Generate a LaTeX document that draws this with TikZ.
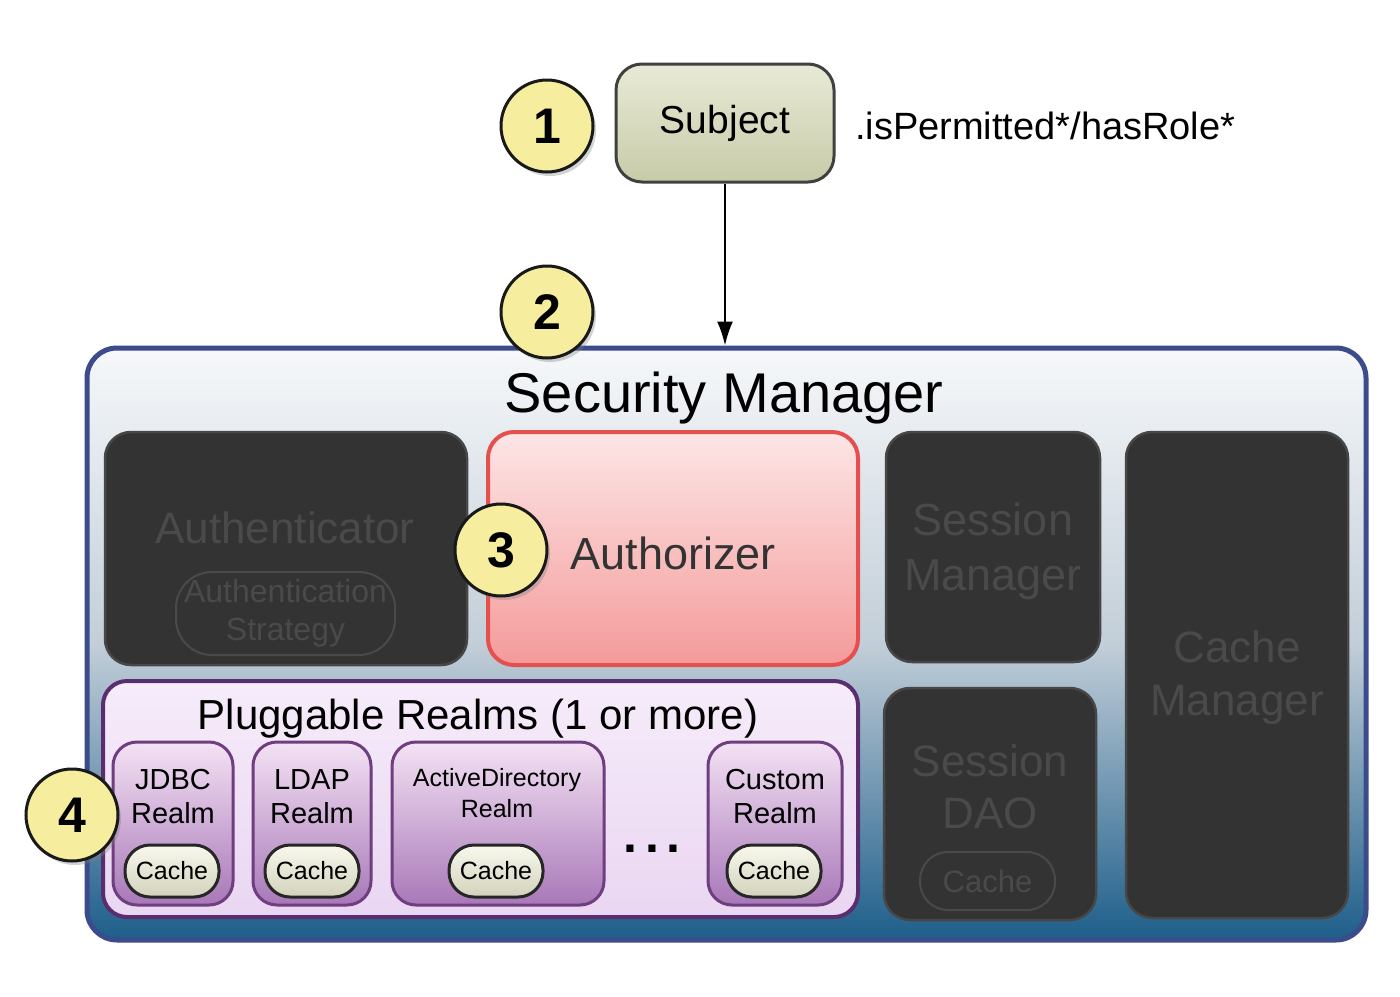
\documentclass[tikz,border=0pt]{standalone}
\usepackage{fontspec}
\setmainfont{Liberation Sans}
\usetikzlibrary{shadows,arrows.meta}
\definecolor{numfill}{HTML}{F6EE9E}
\definecolor{darkfill}{HTML}{333333}
\definecolor{darktext}{HTML}{4A4A4A}
\definecolor{smborder}{HTML}{3C4B8C}
\definecolor{smtop}{HTML}{F6F8FA}
\definecolor{smmid}{HTML}{C2CED8}
\definecolor{smbot}{HTML}{1D5E8A}
\definecolor{azborder}{HTML}{E5504F}
\definecolor{aztop}{HTML}{FDE6E6}
\definecolor{azbot}{HTML}{F49A9A}
\definecolor{plborder}{HTML}{5A2E6E}
\definecolor{pltop}{HTML}{F6ECFA}
\definecolor{plbot}{HTML}{EAD6F2}
\definecolor{rlborder}{HTML}{6E3E80}
\definecolor{rltop}{HTML}{F4E2F4}
\definecolor{rlbot}{HTML}{A878B8}
\definecolor{chtop}{HTML}{F8F8EE}
\definecolor{chbot}{HTML}{D2D2BC}
\definecolor{sbtop}{HTML}{E8EAD6}
\definecolor{sbbot}{HTML}{C8CBA8}
\newcommand\myfs[2]{\fontsize{#1}{#2}\selectfont}
\begin{document}
\begin{tikzpicture}[x=1pt,y=-1pt,
  num/.style={circle, draw=black!90, line width=3pt, fill=numfill, minimum size=92pt, inner sep=0pt,
    font=\myfs{50}{50}\bfseries, drop shadow={opacity=0.35, shadow xshift=3pt, shadow yshift=-4pt}},
  darkbox/.style={draw=black!72, line width=2.5pt, fill=darkfill, rounded corners=26pt, inner sep=0pt},
  darklbl/.style={text=darktext, align=center, inner sep=0pt},
  realm/.style={draw=rlborder, line width=3pt, top color=rltop, bottom color=rlbot, rounded corners=24pt, inner sep=0pt, minimum height=163pt},
  realmlbl/.style={align=center, inner sep=0pt, font=\myfs{29}{34}},
  cache/.style={draw=black!85, line width=3pt, top color=chtop, bottom color=chbot, rounded corners=25pt,
    minimum width=94pt, minimum height=52pt, inner sep=0pt, font=\myfs{25}{25}},
  box/.style={inner sep=0pt}
]
\useasboundingbox (0,0) rectangle (1400,996);

% Security Manager container
\node[box, draw=smborder, line width=5pt, top color=smtop, bottom color=smbot, middle color=smmid,
  rounded corners=30pt, minimum width=1279pt, minimum height=592pt] (sm) at (726.5,644) {};
\node[anchor=base, inner sep=0pt, font=\myfs{56}{56}] (smlbl) at (724,412) {Security Manager};

% Subject
\node[box, draw=black!75, line width=3pt, top color=sbtop, bottom color=sbbot, rounded corners=26pt,
  minimum width=218pt, minimum height=118pt, font=\myfs{39}{39}] (subject) at (725,123) {Subject};
\node[anchor=base west, inner sep=0pt, font=\myfs{38}{38}] (perm) at (855,139) {.isPermitted*/hasRole*};
\draw[line width=2pt, -{Latex[length=24pt,width=16pt]}] (subject.south) -- (subject.south |- sm.north);

% Authenticator
\node[darkbox, minimum width=362pt, minimum height=233pt] (auth) at (286,548.5) {};
\node[darklbl, anchor=base, font=\myfs{44}{44}] (authlbl) at (285,543) {Authenticator};
\node[draw=darktext, line width=2pt, rounded corners=36pt, minimum width=219pt, minimum height=83pt,
  inner sep=0pt, text=darktext, align=center, font=\myfs{32}{38}] (strat) at (285.5,613.5) {Authentication\\Strategy};

% Authorizer
\node[box, draw=azborder, line width=4pt, top color=aztop, bottom color=azbot, rounded corners=26pt,
  minimum width=370pt, minimum height=233pt] (authz) at (673,548.5) {};
\node[inner sep=0pt, font=\myfs{45}{45}, text=black!80] (authzlbl) at (673,553) {Authorizer};

% Session Manager
\node[darkbox, minimum width=214pt, minimum height=230pt] (sessmgr) at (993,547) {};
\node[darklbl, font=\myfs{45}{55}] (sessmgrlbl) at (993,551) {Session\\Manager};

% Session DAO
\node[darkbox, minimum width=212pt, minimum height=232pt] (sessdao) at (990,804) {};
\node[darklbl, font=\myfs{44}{52}] (sessdaolbl) at (990,787) {Session\\DAO};
\node[draw=darktext, line width=2pt, rounded corners=28pt, minimum width=135pt, minimum height=58pt,
  inner sep=0pt, text=darktext, font=\myfs{31}{31}] (daocache) at (987.5,881) {Cache};

% Cache Manager
\node[darkbox, minimum width=222pt, minimum height=486pt] (cachemgr) at (1237,675) {};
\node[darklbl, font=\myfs{44}{53}] (cachemgrlbl) at (1237,678) {Cache\\Manager};

% Pluggable Realms
\node[box, draw=plborder, line width=4pt, top color=pltop, bottom color=plbot, rounded corners=24pt,
  minimum width=755pt, minimum height=236pt] (plug) at (480.5,799) {};
\node[anchor=base, inner sep=0pt, font=\myfs{42}{42}] (pluglbl) at (478,729) {Pluggable Realms (1 or more)};

\node[realm, minimum width=120pt] (jdbc) at (173,823.5) {};
\node[realmlbl] (jdbclbl) at (173,797) {JDBC\\Realm};
\node[cache] (c-jdbc) at (172,871) {Cache};

\node[realm, minimum width=118pt] (ldap) at (312,823.5) {};
\node[realmlbl] (ldaplbl) at (312,797) {LDAP\\Realm};
\node[cache] (c-ldap) at (312,871) {Cache};

\node[realm, minimum width=212pt] (ad) at (498,823.5) {};
\node[realmlbl, font=\myfs{25}{31}] (adlbl) at (497,793) {ActiveDirectory\\Realm};
\node[cache] (c-ad) at (496,871) {Cache};

\node[realm, minimum width=134pt] (custom) at (775,823.5) {};
\node[realmlbl] (customlbl) at (775,797) {Custom\\Realm};
\node[cache] (c-custom) at (774,871) {Cache};

\node[anchor=base, inner sep=0pt, font=\myfs{50}{50}\bfseries] (dots) at (652,852) {.\hspace{8pt}.\hspace{8pt}.};

% Number badges
\node[num] (n1) at (547,126) {1};
\node[num] (n2) at (547,312) {2};
\node[num] (n3) at (501,550) {3};
\node[num] (n4) at (72,815) {4};
\end{tikzpicture}
\end{document}
